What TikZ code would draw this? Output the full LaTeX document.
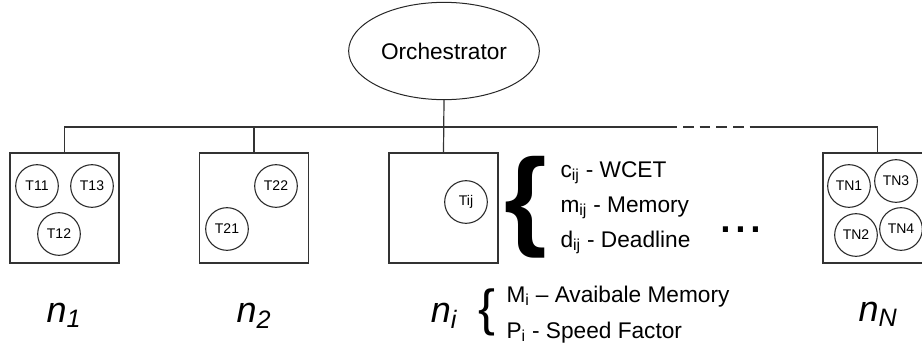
\documentclass[tikz,border=0pt]{standalone}
\usepackage{fontspec}
\setmainfont{Liberation Sans}
\usetikzlibrary{shapes.geometric}

\tikzset{every picture/.style={line width=0.75pt}}
\tikzset{
  hostbox/.style={draw=black!80, line width=1pt, minimum width=81.75pt, minimum height=82.5pt, inner sep=0pt},
  task/.style={circle, draw=black!85, line width=0.8pt, minimum size=32pt, inner sep=0pt, font=\fontsize{10.5}{12}\selectfont},
  hostlabel/.style={anchor=base, inner sep=0.75pt, font=\fontsize{27}{30}\selectfont\itshape},
  attr/.style={anchor=base west, inner sep=0.75pt, font=\fontsize{17}{20}\selectfont},
  link/.style={draw=black!80, line width=0.9pt}
}

\begin{document}
\begin{tikzpicture}[x=0.75pt,y=0.75pt,yscale=-1,xscale=1]
\clip (0,0) rectangle (922,347);
\useasboundingbox (0,0) rectangle (922,347);

%Shape: Ellipse [orchestrator]
\draw (444,51) node [ellipse, draw=black!85, minimum width=141pt, minimum height=73pt, font=\fontsize{17}{20}\selectfont] (orch) {Orchestrator};

%Shape: Rectangle [hosts]
\draw (64.5,208) node [hostbox] (host1) {};
\draw (254,208) node [hostbox] (host2) {};
\draw (443.5,208) node [hostbox] (hosti) {};
\draw (877.5,208) node [hostbox] (hostN) {};

%Bus
\coordinate (dashL) at (677,127);
\coordinate (dashR) at (757,127);
\draw [link] (orch.south) -- (hosti.north);
\draw [link] (host1.north) |- (dashL);
\draw [link] (host2.north) -- (host2.north |- dashL);
\draw [link, dash pattern=on 8pt off 4.5pt, dash phase=8pt] (dashL) -- (dashR);
\draw [link] (dashR) -| (hostN.north);

%Shape: Circle [tasks]
\draw (37,186) node [task] (t11) {T11};
\draw (92,186) node [task] (t13) {T13};
\draw (59,234) node [task] (t12) {T12};
\draw (276,186) node [task] (t22) {T22};
\draw (227,229) node [task] (t21) {T21};
\draw (466,202) node [task] (tij) {Tij};
\draw (849,186) node [task] (tn1) {TN1};
\draw (896,181) node [task] (tn3) {TN3};
\draw (856,235) node [task] (tn2) {TN2};
\draw (901,229) node [task] (tn4) {TN4};

% Text Node
\draw (526,207) node [inner sep=0pt, font=\fontsize{82}{82}\selectfont\bfseries] (bigbrace) {\{};
\draw (559,177) node [attr] (wcet) {c\textsubscript{ij} - WCET};
\draw (559,212) node [attr] (mem) {m\textsubscript{ij} - Memory};
\draw (559,247) node [attr] (dead) {d\textsubscript{ij} - Deadline};
% Text Node
\draw (741,232) node [anchor=base, inner sep=0pt, font=\fontsize{40}{40}\selectfont] (dots) {...};
% Text Node
\draw (487,312) node [inner sep=0pt, font=\fontsize{38}{38}\selectfont] (smallbrace) {\{};
\draw (505,302) node [attr] (avail) {M\textsubscript{i} – Avaibale Memory};
\draw (505,338) node [attr] (speed) {P\textsubscript{i} - Speed Factor};

% Text Node
\draw (64,322) node [hostlabel] (lab1) {n\textsubscript{1}};
\draw (254,322) node [hostlabel] (lab2) {n\textsubscript{2}};
\draw (444,322) node [hostlabel] (labi) {n\textsubscript{i}};
\draw (878,321) node [hostlabel] (labN) {n\textsubscript{N}};

\end{tikzpicture}
\end{document}
